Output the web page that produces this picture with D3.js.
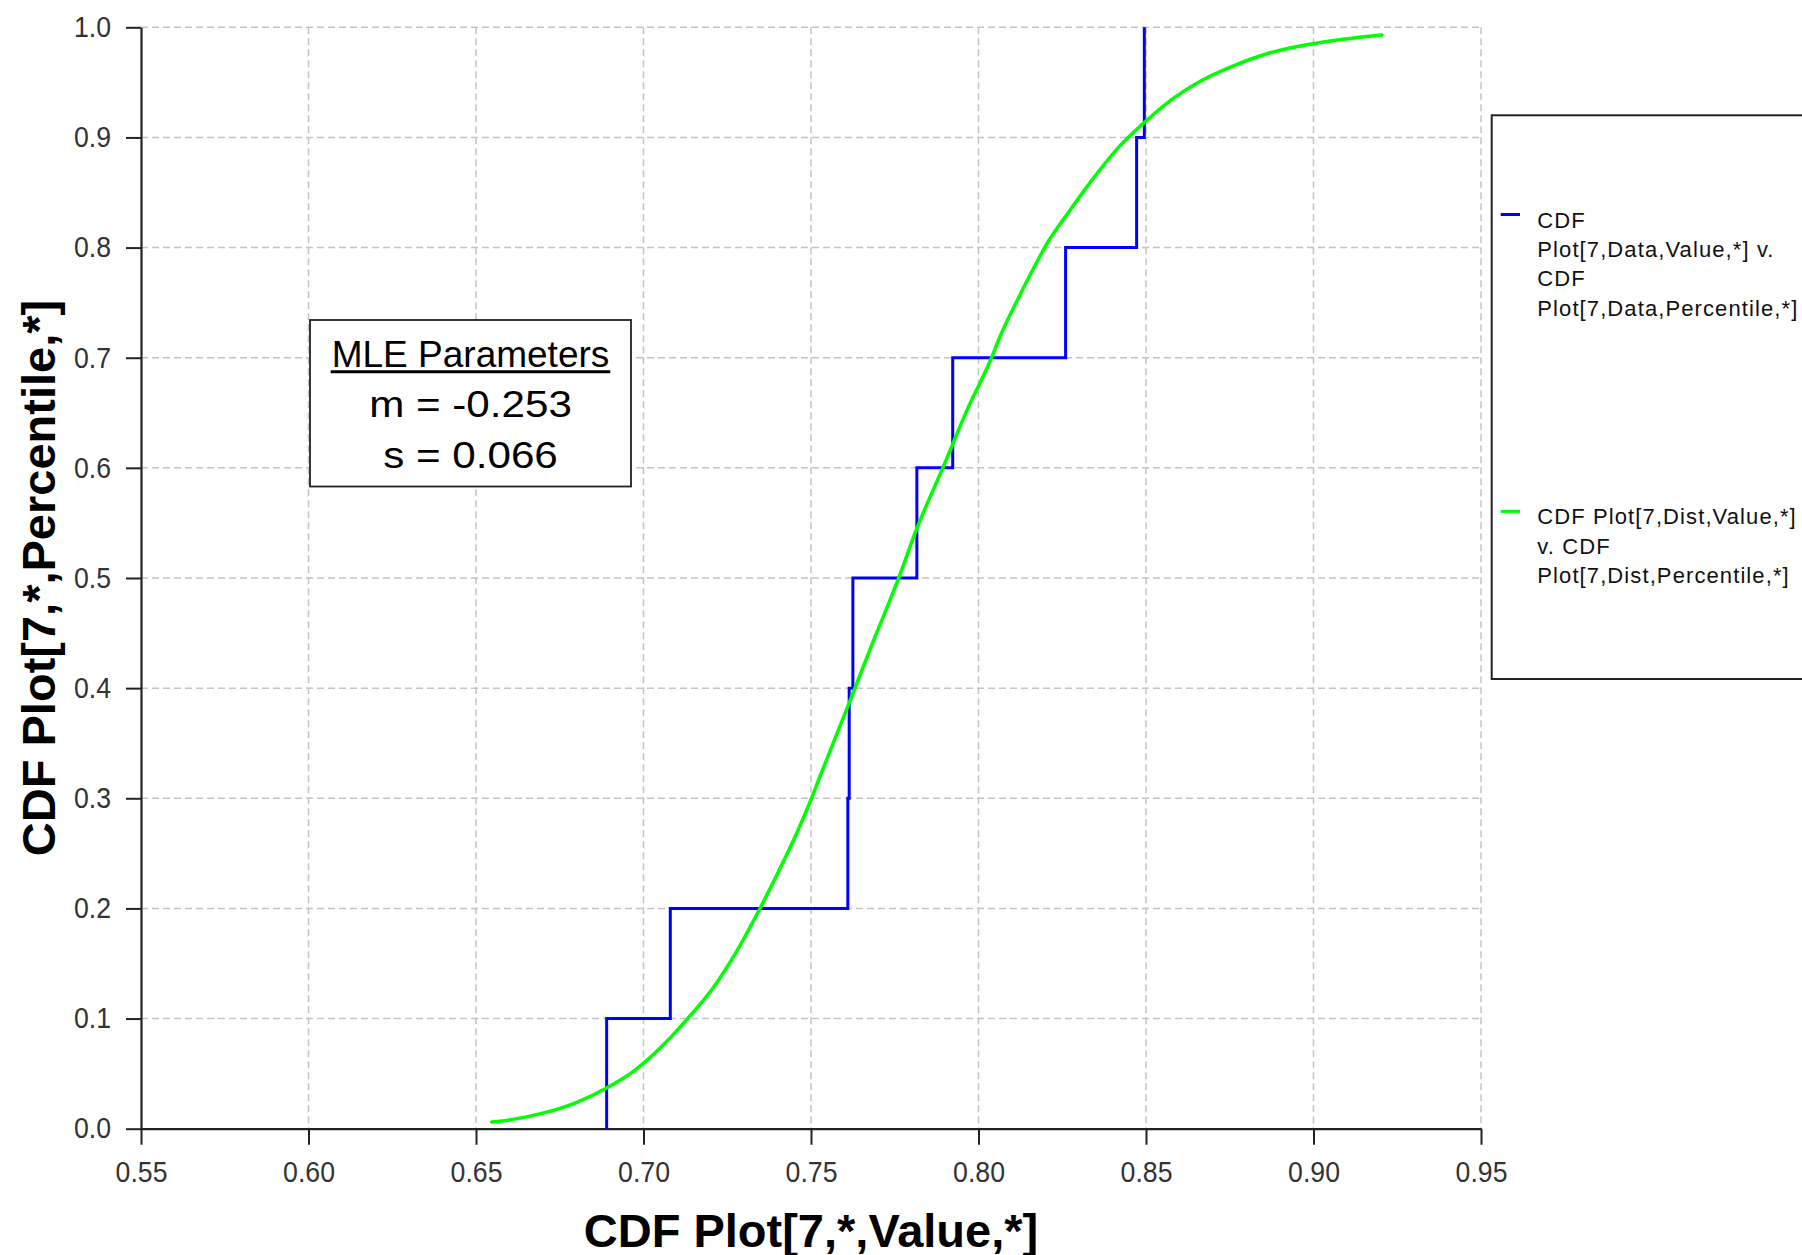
<!DOCTYPE html>
<html>
<head>
<meta charset="utf-8">
<script src="https://cdn.jsdelivr.net/npm/d3@7"></script>
<style>
  html, body { margin: 0; padding: 0; background: #fff; }
  svg { display: block; }
  text { font-family: "Liberation Sans", Arial, sans-serif; }
</style>
</head>
<body>
<div id="chart"></div>
<script>
// ---- data ----
const xTicks = [0.55, 0.60, 0.65, 0.70, 0.75, 0.80, 0.85, 0.90, 0.95];
const yTicks = [0.0, 0.1, 0.2, 0.3, 0.4, 0.5, 0.6, 0.7, 0.8, 0.9, 1.0];

// empirical CDF (blue step) : sorted data values and their cumulative percentile
const dataValues = [0.689, 0.708, 0.761, 0.7614, 0.7625, 0.7816, 0.7923, 0.826, 0.8472, 0.8495];
const dataPercentiles = [0.1, 0.2, 0.3, 0.4, 0.5, 0.6, 0.7, 0.8, 0.9, 1.0];

// fitted distribution CDF (green)
const distValues = [0.6547, 0.6601, 0.6711, 0.6801, 0.6890, 0.6970, 0.7049, 0.7129, 0.7208, 0.7278,
  0.7346, 0.7407, 0.7457, 0.7499, 0.7527, 0.7612, 0.7676, 0.7763, 0.7816, 0.7895, 0.7965, 0.8039,
  0.8064, 0.8114, 0.8164, 0.8209, 0.8264, 0.8333, 0.8418, 0.8493, 0.8562, 0.8662, 0.8761, 0.8861,
  0.8960, 0.9060, 0.9204];
const distPercentiles = [0.006, 0.008, 0.015, 0.024, 0.037, 0.052, 0.073, 0.099, 0.128, 0.161,
  0.199, 0.236, 0.268, 0.298, 0.320, 0.385, 0.435, 0.501, 0.545, 0.601, 0.652, 0.700,
  0.719, 0.751, 0.781, 0.806, 0.830, 0.859, 0.891, 0.913, 0.931, 0.951, 0.965, 0.976,
  0.983, 0.988, 0.993];

const xTitle = "CDF Plot[7,*,Value,*]";
const yTitle = "CDF Plot[7,*,Percentile,*]";
const mleLines = ["MLE Parameters", "m = -0.253", "s = 0.066"];
const legendItems = [
  { lines: ["CDF", "Plot[7,Data,Value,*] v.", "CDF", "Plot[7,Data,Percentile,*]"], color: "#0000ff" },
  { lines: ["CDF Plot[7,Dist,Value,*]", "v. CDF", "Plot[7,Dist,Percentile,*]"], color: "#00ff00" }
];

// ---- layout ----
const W = 1802, H = 1255;
const svg = d3.select("#chart").append("svg").attr("width", W).attr("height", H);

const x = d3.scaleLinear().domain([0.55, 0.95]).range([141, 1481]);
const y = d3.scaleLinear().domain([0, 1]).range([1128.7, 27.3]);

// grid
const grid = svg.append("g").attr("stroke", "#c4c4c4").attr("stroke-width", 1.5)
  .attr("stroke-dasharray", "7,4").attr("fill", "none");
grid.selectAll("line.h").data(yTicks.filter(d => d > 0)).join("line")
  .attr("x1", x(0.55)).attr("x2", x(0.95))
  .attr("y1", d => y(d)).attr("y2", d => y(d));
grid.selectAll("line.v").data(xTicks.filter(d => d > 0.55)).join("line")
  .attr("x1", d => x(d)).attr("x2", d => x(d))
  .attr("y1", y(1)).attr("y2", y(0));

// axes
const xAxis = d3.axisBottom(x).tickValues(xTicks).tickFormat(d3.format(".2f"))
  .tickSize(16).tickSizeOuter(0).tickPadding(17);
const yAxis = d3.axisLeft(y).tickValues(yTicks).tickFormat(d3.format(".1f"))
  .tickSize(15).tickSizeOuter(0).tickPadding(15);

const gx = svg.append("g").attr("transform", `translate(0,${y(0)})`).call(xAxis);
const gy = svg.append("g").attr("transform", `translate(${x(0.55)},0)`).call(yAxis);
[gx, gy].forEach(g => {
  g.select(".domain").attr("stroke", "#222").attr("stroke-width", 2.2);
  g.selectAll(".tick line").attr("stroke", "#222").attr("stroke-width", 2);
  g.selectAll(".tick text").attr("fill", "#333")
    .style("font-size", "29px").style("font-family", "'Liberation Sans', Arial, sans-serif");
});
// slightly condensed tick labels like the reference
gx.selectAll(".tick text").attr("transform", "scale(0.92,1)");
gy.selectAll(".tick text").attr("x", -30 / 0.92).attr("transform", "scale(0.92,1)");

// blue step (empirical CDF)
const stepPts = [];
dataValues.forEach((v, i) => {
  const prev = i === 0 ? 0 : dataPercentiles[i - 1];
  stepPts.push([v, prev]);
  stepPts.push([v, dataPercentiles[i]]);
});
svg.append("path").datum(stepPts)
  .attr("fill", "none").attr("stroke", "#0000ff").attr("stroke-width", 3)
  .attr("stroke-linejoin", "miter")
  .attr("d", d3.line().x(d => x(d[0])).y(d => y(d[1])));

// green distribution curve
const distPts = distValues.map((v, i) => [v, distPercentiles[i]]);
svg.append("path").datum(distPts)
  .attr("fill", "none").attr("stroke", "#00ff00").attr("stroke-width", 3.5)
  .attr("stroke-linejoin", "round").attr("stroke-linecap", "round")
  .attr("d", d3.line().curve(d3.curveMonotoneX).x(d => x(d[0])).y(d => y(d[1])));

// MLE box
const mle = svg.append("g");
mle.append("rect").attr("x", 310).attr("y", 320).attr("width", 321).attr("height", 166.5)
  .attr("fill", "#fff").attr("stroke", "#222").attr("stroke-width", 1.8);
const mleBase = [366.7, 416.7, 468];
const mleScale = [1, 1.14, 1.14];
const mleSize = [37, 37, 37];
mleLines.forEach((t, i) => {
  const tx = mle.append("text").attr("x", 0).attr("y", 0)
    .attr("transform", `translate(470.5,${mleBase[i]}) scale(${mleScale[i]},1)`)
    .attr("text-anchor", "middle").style("font-size", mleSize[i] + "px")
    .attr("fill", "#000").text(t);
  if (i === 0) {
    const w = tx.node().getComputedTextLength();
    mle.append("line").attr("x1", 470.5 - w / 2 - 1).attr("x2", 470.5 + w / 2 + 1)
      .attr("y1", 371.7).attr("y2", 371.7).attr("stroke", "#000").attr("stroke-width", 3);
  }
});

// legend
const leg = svg.append("g");
leg.append("rect").attr("x", 1491.7).attr("y", 115.3).attr("width", 400).attr("height", 563.7)
  .attr("fill", "#fff").attr("stroke", "#222").attr("stroke-width", 2);
const legTop = [227.5, 524.4];
legendItems.forEach((it, k) => {
  leg.append("line").attr("x1", 1500.7).attr("x2", 1520)
    .attr("y1", legTop[k] - 13).attr("y2", legTop[k] - 13)
    .attr("stroke", it.color).attr("stroke-width", 3);
  it.lines.forEach((t, j) => {
    leg.append("text").attr("x", 1537.3).attr("y", legTop[k] + j * 29.4)
      .style("font-size", "22px").style("letter-spacing", "1.1px").attr("fill", "#111").text(t);
  });
});

// axis titles
svg.append("text").attr("x", (x(0.55) + x(0.95)) / 2).attr("y", 1246.5)
  .attr("text-anchor", "middle").style("font-size", "47px").style("font-weight", "bold")
  .attr("fill", "#000").text(xTitle);
svg.append("text").attr("transform", `translate(55,${(y(0) + y(1)) / 2}) rotate(-90)`)
  .attr("text-anchor", "middle").style("font-size", "47px").style("font-weight", "bold")
  .attr("fill", "#000").text(yTitle);
</script>
</body>
</html>
